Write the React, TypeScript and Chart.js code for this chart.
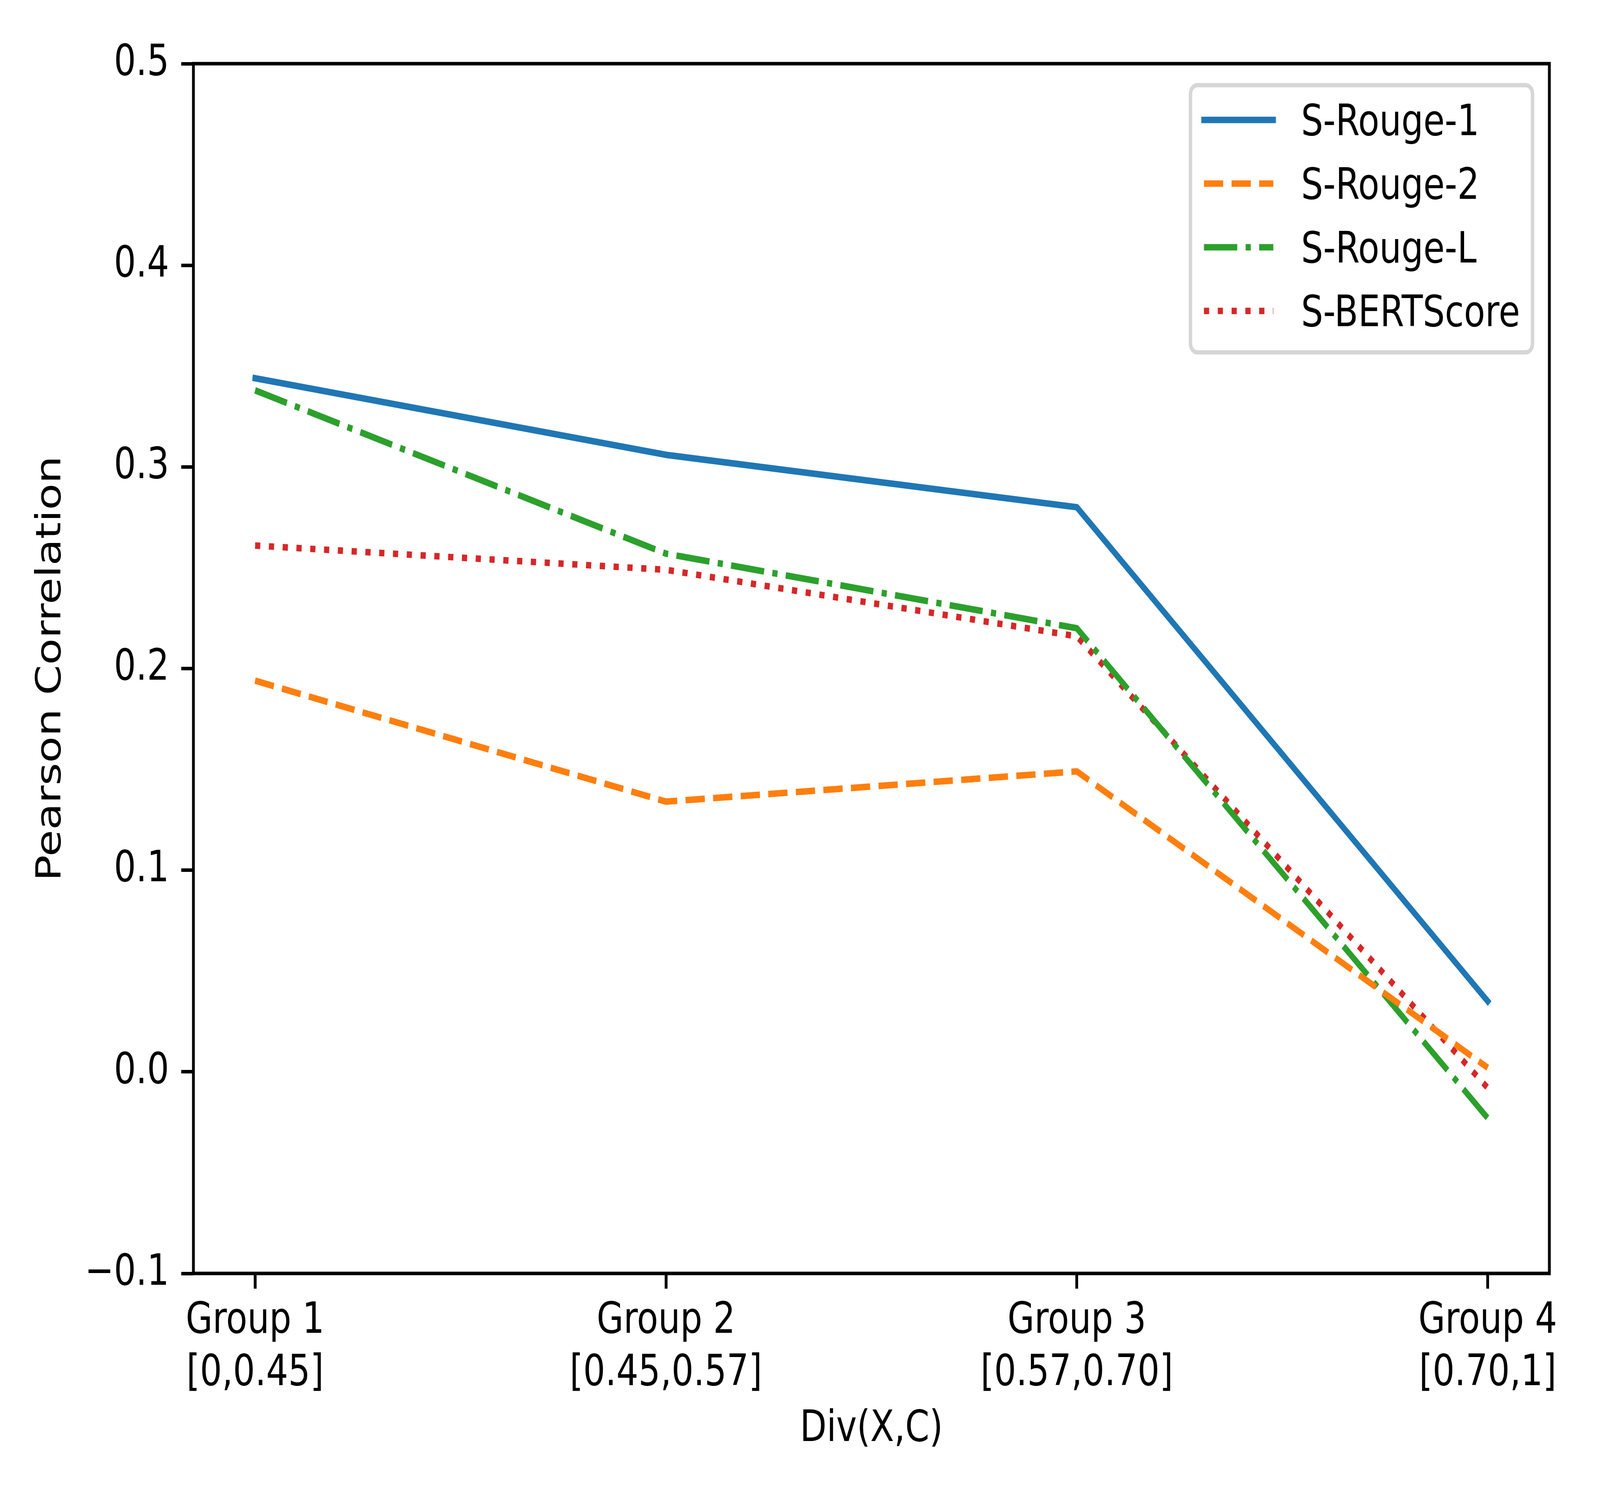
import React, { useEffect, useRef } from 'react';
import { Chart, registerables } from 'chart.js';

Chart.register(...registerables);

// ---- data ----
const groupPositions = [0, 1, 2, 3];
const groupLabels = [
  ['Group 1', '[0,0.45]'],
  ['Group 2', '[0.45,0.57]'],
  ['Group 3', '[0.57,0.70]'],
  ['Group 4', '[0.70,1]'],
];
const seriesNames = ['S-Rouge-1', 'S-Rouge-2', 'S-Rouge-L', 'S-BERTScore'];
const rouge1 = [0.344, 0.306, 0.280, 0.035];
const rouge2 = [0.194, 0.134, 0.149, 0.002];
const rougeL = [0.338, 0.257, 0.220, -0.023];
const bertScore = [0.261, 0.249, 0.216, -0.008];
const yTicks = [-0.1, 0.0, 0.1, 0.2, 0.3, 0.4, 0.5];
const xTitle = 'Div(X,C)';
const yTitle = 'Pearson Correlation';

const FONT = 'DejaVu Sans';
const W = 5120;
const H = 3840;
const FS = 111; // 10pt at 800 dpi
const LW = 16.67; // 1.5pt
const SPINE = 9;

const fmtY = (v: number) => {
  const n = Math.abs(v) < 1e-9 ? 0 : v;
  return n.toFixed(1).replace('-', '\u2212');
};

const toPoints = (vals: number[]) => groupPositions.map((x, i) => ({ x, y: vals[i] }));

const spinePlugin = {
  id: 'spines',
  afterDatasetsDraw(chart: any) {
    const { ctx, chartArea: a } = chart;
    ctx.save();
    ctx.strokeStyle = '#000';
    ctx.lineWidth = SPINE;
    ctx.lineJoin = 'miter';
    ctx.strokeRect(a.left, a.top, a.right - a.left, a.bottom - a.top);
    ctx.restore();
  },
};

const legendPlugin = {
  id: 'mplLegend',
  afterDraw(chart: any) {
    const { ctx, chartArea: a } = chart;
    const ds = chart.data.datasets;
    ctx.save();
    ctx.font = `${FS}px "${FONT}"`;
    let maxW = 0;
    ds.forEach((d: any) => {
      maxW = Math.max(maxW, ctx.measureText(d.label).width);
    });
    const handleLen = 2.0 * FS;
    const textPad = 0.8 * FS;
    const right = a.right - 54;
    const top = a.top + 55;
    const left = right - (43 + handleLen + textPad + maxW + 40);
    const rowGap = 163;
    const firstRow = top + 89;
    const bottom = firstRow + rowGap * (ds.length - 1) + 106;
    const r = 22;
    ctx.beginPath();
    ctx.moveTo(left + r, top);
    ctx.lineTo(right - r, top);
    ctx.arcTo(right, top, right, top + r, r);
    ctx.lineTo(right, bottom - r);
    ctx.arcTo(right, bottom, right - r, bottom, r);
    ctx.lineTo(left + r, bottom);
    ctx.arcTo(left, bottom, left, bottom - r, r);
    ctx.lineTo(left, top + r);
    ctx.arcTo(left, top, left + r, top, r);
    ctx.closePath();
    ctx.fillStyle = 'rgba(255,255,255,0.8)';
    ctx.fill();
    ctx.lineWidth = 11;
    ctx.strokeStyle = '#d6d6d6';
    ctx.stroke();

    const hx0 = left + 43;
    ds.forEach((d: any, i: number) => {
      const y = firstRow + i * rowGap;
      ctx.beginPath();
      ctx.setLineDash(d.borderDash || []);
      ctx.lineDashOffset = 0;
      ctx.lineCap = d.borderCapStyle || 'butt';
      ctx.lineWidth = d.borderWidth;
      ctx.strokeStyle = d.borderColor;
      ctx.moveTo(hx0, y);
      ctx.lineTo(hx0 + handleLen, y);
      ctx.stroke();
      ctx.setLineDash([]);
      ctx.fillStyle = '#000';
      ctx.textAlign = 'left';
      ctx.textBaseline = 'alphabetic';
      ctx.fillText(d.label, hx0 + handleLen + textPad, y + 39);
    });
    ctx.restore();
  },
};

const gridOpts = {
  display: true,
  drawOnChartArea: false,
  drawTicks: true,
  tickLength: 39,
  tickWidth: SPINE,
  tickColor: '#000',
  color: '#000',
  lineWidth: SPINE,
};

const mk = (label: string, vals: number[], color: string, dash: number[] | null) => ({
  label,
  data: toPoints(vals),
  borderColor: color,
  borderWidth: LW,
  borderDash: dash ? dash.map((d) => d * LW) : [],
  borderCapStyle: dash ? 'butt' : 'square',
  borderJoinStyle: 'round',
  pointRadius: 0,
  tension: 0,
});

export default function App() {
  const ref = useRef<HTMLCanvasElement>(null);

  useEffect(() => {
    if (!ref.current) return;
    document.body.style.margin = '0';
    Chart.defaults.font.family = FONT;
    const chart = new Chart(ref.current, {
      type: 'line',
      data: {
        datasets: [
          mk(seriesNames[0], rouge1, '#1f77b4', null),
          mk(seriesNames[1], rouge2, '#ff7f0e', [3.7, 1.6]),
          mk(seriesNames[2], rougeL, '#2ca02c', [6.4, 1.6, 1.0, 1.6]),
          mk(seriesNames[3], bertScore, '#d62728', [1.0, 1.65]),
        ] as any,
      },
      options: {
        animation: false,
        responsive: false,
        devicePixelRatio: 1,
        layout: { padding: { top: 163, right: 162, left: 0, bottom: 0 } },
        plugins: {
          legend: { display: false },
          tooltip: { enabled: false },
        },
        scales: {
          x: {
            type: 'linear',
            min: -0.15,
            max: 3.15,
            afterBuildTicks: (s: any) => {
              s.ticks = groupPositions.map((v) => ({ value: v }));
            },
            afterFit: (s: any) => {
              s.height = 580;
            },
            grid: gridOpts,
            border: { display: false },
            ticks: {
              autoSkip: false,
              maxRotation: 0,
              minRotation: 0,
              padding: 18,
              color: '#000',
              font: { family: FONT, size: FS },
              callback: (_v: any, i: number) => groupLabels[i],
            },
            title: {
              display: true,
              text: xTitle,
              color: '#000',
              font: { family: FONT, size: FS },
              padding: { top: 0, bottom: 113 },
            },
          },
          y: {
            type: 'linear',
            min: -0.1,
            max: 0.5,
            afterBuildTicks: (s: any) => {
              s.ticks = yTicks.map((v) => ({ value: v }));
            },
            afterFit: (s: any) => {
              s.width = 619;
            },
            grid: gridOpts,
            border: { display: false },
            ticks: {
              autoSkip: false,
              padding: 39,
              color: '#000',
              font: { family: FONT, size: FS },
              callback: (v: any) => fmtY(Number(v)),
            },
            title: {
              display: true,
              text: yTitle,
              color: '#000',
              font: { family: FONT, size: FS },
              padding: { top: 98, bottom: 0 },
            },
          },
        },
      } as any,
      plugins: [spinePlugin, legendPlugin],
    });
    return () => chart.destroy();
  }, []);

  return (
    <div style={{ position: 'fixed', left: 0, top: 0, width: '100vw', height: '100vh', background: '#fff' }}>
      <canvas ref={ref} width={W} height={H} style={{ width: '100%', height: '100%', display: 'block' }} />
    </div>
  );
}
